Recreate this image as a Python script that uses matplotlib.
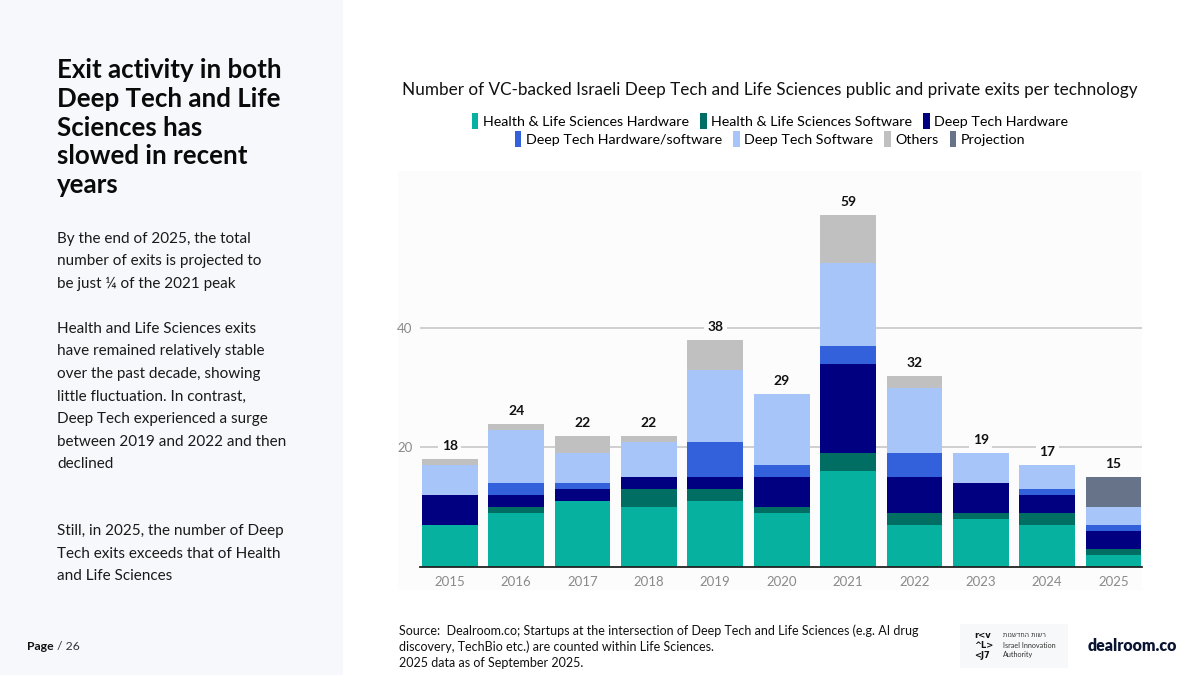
import numpy as np
import matplotlib.pyplot as plt
from matplotlib.patches import Patch, Rectangle

plt.rcParams['font.family'] = ['Lato', 'DejaVu Sans']

years = ['2015', '2016', '2017', '2018', '2019', '2020', '2021', '2022', '2023', '2024', '2025']
hls_hw = [7, 9, 11, 10, 11, 9, 16, 7, 8, 7, 2]
hls_sw = [0, 1, 0, 3, 2, 1, 3, 2, 1, 2, 1]
dt_hw = [5, 2, 2, 2, 2, 5, 15, 6, 5, 3, 3]
dt_hwsw = [0, 2, 1, 0, 6, 2, 3, 4, 0, 1, 1]
dt_sw = [5, 9, 5, 6, 12, 12, 14, 11, 5, 4, 3]
others = [1, 1, 3, 1, 5, 0, 8, 2, 0, 0, 0]
projection = [0, 0, 0, 0, 0, 0, 0, 0, 0, 0, 5]

series_names = ['Health & Life Sciences Hardware', 'Health & Life Sciences Software',
                'Deep Tech Hardware', 'Deep Tech Hardware/software',
                'Deep Tech Software', 'Others', 'Projection']
series = [hls_hw, hls_sw, dt_hw, dt_hwsw, dt_sw, others, projection]
colors = ['#07B19F', '#006E63', '#000080', '#3361DB', '#A7C5F9', '#C0C0C0', '#677389']

fig = plt.figure(figsize=(12, 6.75), dpi=100)
fig.patch.set_facecolor('white')

# left panel
fig.patches.append(Rectangle((0, 0), 343 / 1200, 1, transform=fig.transFigure,
                             facecolor='#F7F8FC', edgecolor='none', zorder=-2))
# chart background
fig.patches.append(Rectangle((398 / 1200, 85 / 675), 744 / 1200, 419 / 675,
                             transform=fig.transFigure, facecolor='#FCFCFC',
                             edgecolor='none', zorder=-2))

ax = fig.add_axes([420 / 1200, 108.5 / 675, 722 / 1200, 369 / 675])
ax.set_facecolor('none')
ax.set_zorder(1)

x = np.arange(len(years))
bottom = np.zeros(len(years))
for name, vals, c in zip(series_names, series, colors):
    vals = np.array(vals, dtype=float)
    ax.bar(x, vals, width=0.84, bottom=bottom, color=c, label=name, zorder=3)
    bottom += vals

totals = bottom
for xi, t in zip(x, totals):
    ax.annotate(f'{int(t)}', (xi, t), xytext=(0, 5), textcoords='offset points',
                ha='center', va='bottom', fontsize=10, fontweight='bold', color='#111111',
                zorder=5, bbox=dict(boxstyle='square,pad=0.25', facecolor='#FCFCFC',
                                    edgecolor='none'))

ax.set_xlim(-0.45, 10.43)
ax.set_ylim(0, 62)
ax.set_yticks([20, 40])
ax.yaxis.grid(True, color='#C8C8C8', linewidth=1.2, zorder=1)
ax.set_axisbelow(True)
for s in ['top', 'right', 'left']:
    ax.spines[s].set_visible(False)
ax.spines['bottom'].set_color('#222222')
ax.spines['bottom'].set_linewidth(1.3)
ax.spines['bottom'].set_zorder(4)
ax.set_xticks(x)
ax.set_xticklabels(years)
ax.tick_params(axis='both', length=0, labelsize=9.5, labelcolor='#8A8A8A')
ax.tick_params(axis='x', pad=7)
ax.tick_params(axis='y', pad=5.5)

# chart title and legend
fig.text(770 / 1200, 1 - 90 / 675, 'Number of VC-backed Israeli Deep Tech and Life Sciences public and private exits per technology',
         ha='center', va='center', fontsize=12.3, color='#111111')

handles = [Patch(facecolor=c, edgecolor='none') for c in colors]
fig.legend(handles[:3], series_names[:3], loc='center', ncol=3,
           bbox_to_anchor=(770 / 1200, 1 - 121 / 675), frameon=False,
           fontsize=10.3, handlelength=0.45, handleheight=1.3,
           handletextpad=0.3, columnspacing=0.8, borderpad=0)
fig.legend(handles[3:], series_names[3:], loc='center', ncol=4,
           bbox_to_anchor=(770 / 1200, 1 - 139 / 675), frameon=False,
           fontsize=10.3, handlelength=0.45, handleheight=1.3,
           handletextpad=0.3, columnspacing=0.8, borderpad=0)

# left text
headline = ['Exit activity in both', 'Deep Tech and Life', 'Sciences has',
            'slowed in recent', 'years']
for i, line in enumerate(headline):
    fig.text(57 / 1200, 1 - (70 + i * 28.8) / 675, line, ha='left', va='center',
             fontsize=18.6, fontweight='bold', color='#0A0A0A')

body = [
    (239, 'By the end of 2025, the total'),
    (261.5, 'number of exits is projected to'),
    (284, 'be just \u00bc of the 2021 peak'),
    (329, 'Health and Life Sciences exits'),
    (351.5, 'have remained relatively stable'),
    (374, 'over the past decade, showing'),
    (396.5, 'little fluctuation. In contrast,'),
    (419, 'Deep Tech experienced a surge'),
    (441.5, 'between 2019 and 2022 and then'),
    (464, 'declined'),
    (531, 'Still, in 2025, the number of Deep'),
    (553.5, 'Tech exits exceeds that of Health'),
    (576, 'and Life Sciences'),
]
for yy, line in body:
    fig.text(57 / 1200, 1 - yy / 675, line, ha='left', va='center',
             fontsize=11.0, color='#1A1A1A')

# footer
fig.text(27 / 1200, 1 - 647 / 675, 'Page', ha='left', va='center', fontsize=8.8,
         fontweight='bold', color='#111111')
fig.text(57 / 1200, 1 - 647 / 675, '/ 26', ha='left', va='center', fontsize=8.8,
         color='#333333')

source = ['Source:  Dealroom.co; Startups at the intersection of Deep Tech and Life Sciences (e.g. AI drug',
          'discovery, TechBio etc.) are counted within Life Sciences.',
          '2025 data as of September 2025.']
for i, line in enumerate(source):
    fig.text(399 / 1200, 1 - (631 + i * 16) / 675, line, ha='left', va='center',
             fontsize=9, color='#111111')

# logos
fig.patches.append(Rectangle((960 / 1200, 7 / 675), 108 / 1200, 44 / 675,
                             transform=fig.transFigure, facecolor='#F7F8FA',
                             edgecolor='none', zorder=-2))
for i, glyphs in enumerate(['r<v', '^L>', '<J7']):
    fig.text(974 / 1200, 1 - (636 + i * 9.5) / 675, glyphs, ha='left', va='center',
             fontsize=6, fontweight='bold', color='#111111', family='DejaVu Sans')
fig.text(1003 / 1200, 1 - 635 / 675, 'רשות החדשנות'[::-1], ha='left', va='center',
         fontsize=4.8, color='#333333', family='DejaVu Sans')
fig.text(1003 / 1200, 1 - 645.5 / 675, 'Israel Innovation', ha='left', va='center',
         fontsize=5.2, color='#333333')
fig.text(1003 / 1200, 1 - 655 / 675, 'Authority', ha='left', va='center',
         fontsize=5.2, color='#333333')
fig.text(1088 / 1200, 1 - 646 / 675, 'dealroom.co', ha='left', va='center',
         fontsize=11.5, fontweight='heavy', color='#0B1533')

fig.savefig('out.png', dpi=100, facecolor=fig.get_facecolor())
